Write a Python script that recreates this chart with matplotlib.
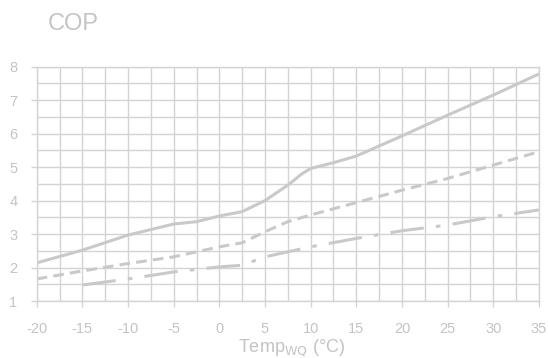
import matplotlib.pyplot as plt
from matplotlib.ticker import MultipleLocator

plt.rcParams['font.family'] = ['Liberation Sans', 'DejaVu Sans']
plt.rcParams['axes.unicode_minus'] = False

# Vorlauftemperatur-Kurven, COP über Quellentemperatur
temp_a = [-20, -15, -10, -5, -2.5, 0, 2.5, 5, 7.5, 9, 10, 12.5, 15, 20, 25, 30, 35]
cop_a = [2.14, 2.52, 2.97, 3.30, 3.37, 3.54, 3.67, 4.0, 4.46, 4.79, 4.96, 5.13, 5.33, 5.93, 6.55, 7.15, 7.78]

temp_b = [-20, -15, -10, -5, 0, 2.5, 5, 7.5, 10, 15, 20, 25, 30, 35]
cop_b = [1.66, 1.90, 2.12, 2.32, 2.62, 2.74, 3.07, 3.37, 3.57, 3.94, 4.31, 4.66, 5.06, 5.46]

temp_c = [-15, -10, -5, 0, 2.5, 5, 10, 15, 20, 25, 30, 35]
cop_c = [1.48, 1.66, 1.87, 2.02, 2.07, 2.32, 2.62, 2.87, 3.10, 3.27, 3.52, 3.72]

xticks = [-20, -15, -10, -5, 0, 5, 10, 15, 20, 25, 30, 35]
yticks = [1, 2, 3, 4, 5, 6, 7, 8]

line_col = '#c9c9c9'
grid_col = '#d4d4d4'
text_col = '#c4c4c4'

fig = plt.figure(figsize=(5.48, 3.58), dpi=100)
ax = fig.add_axes([0.067, 0.159, 0.9165, 0.655])

ax.plot(temp_a, cop_a, color=line_col, lw=2.2, solid_capstyle='butt')
ax.plot(temp_b, cop_b, color=line_col, lw=2.2, dashes=(3.5, 2))
ax.plot(temp_c, cop_c, color=line_col, lw=2.2, dashes=(11, 4, 1.5, 4))

ax.set_xlim(-20, 35)
ax.set_ylim(1, 8)
ax.set_xticks(xticks)
ax.set_yticks(yticks)
ax.xaxis.set_minor_locator(MultipleLocator(2.5))
ax.yaxis.set_minor_locator(MultipleLocator(0.5))
ax.grid(which='both', color=grid_col, lw=1.0)
ax.set_axisbelow(True)

for s in ax.spines.values():
    s.set_color(grid_col)
    s.set_linewidth(1.0)

ax.tick_params(which='major', colors=grid_col, labelcolor=text_col, labelsize=10.5,
               length=4, width=1.0)
ax.tick_params(axis='x', pad=11)
ax.tick_params(axis='y', pad=10)
ax.tick_params(which='minor', length=0)

ax.set_xlabel('Temp$_{\\mathrm{WQ}}$ (°C)', color=text_col, fontsize=13, labelpad=-1)
ax.xaxis.set_label_coords(0.507, -0.155)
fig.text(0.087, 0.932, 'COP', color=text_col, fontsize=17, ha='left', va='center')

fig.savefig('out.png', dpi=100)
